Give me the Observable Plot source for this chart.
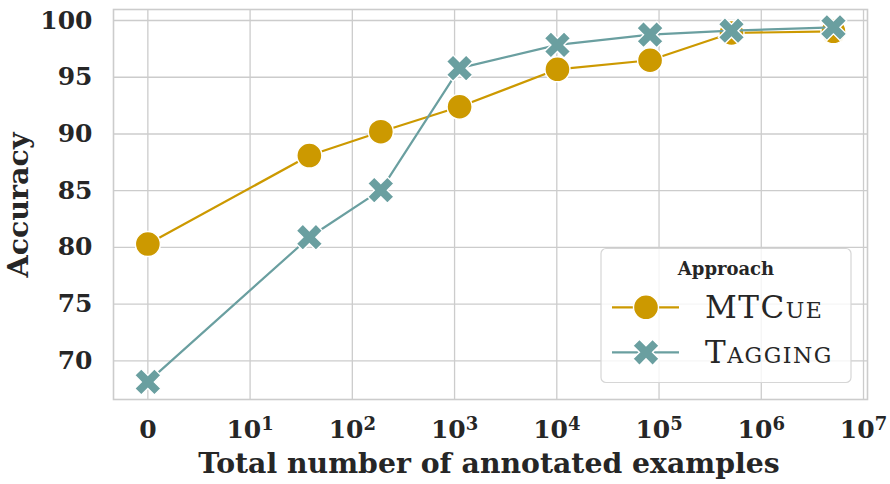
<!DOCTYPE html>
<html>
<head>
<meta charset="utf-8">
<script src="https://cdn.jsdelivr.net/npm/d3@7"></script>
<script src="https://cdn.jsdelivr.net/npm/@observablehq/plot@0.6"></script>
<style>
  html, body { margin: 0; padding: 0; background: #fff; }
  #chart { position: relative; width: 890px; height: 484px; }
</style>
</head>
<body>
<div id="chart"></div>
<script>
// ---- data ----
const examples = [0, 38, 190, 1120, 10150, 81700, 511000, 5080000];
const mtcue    = [80.3, 88.1, 90.2, 92.4, 95.7, 96.5, 98.9, 99.05];
const tagging  = [68.15, 80.9, 85.05, 95.8, 97.85, 98.75, 99.1, 99.4];
const xTickValues = [0, 10, 100, 1000, 10000, 100000, 1000000, 10000000];
const xTickLabels = ["0", "10^1", "10^2", "10^3", "10^4", "10^5", "10^6", "10^7"];
const yTicks = [70, 75, 80, 85, 90, 95, 100];
const seriesNames = ["MTCue", "Tagging"];
const colors = {MTCue: "#cc9900", Tagging: "#6a9fa0"};

// symmetric-log position (linear below 10, log10 above)
const pos = n => n <= 10 ? n / 10 : Math.log10(n);

const rows = [];
examples.forEach((n, i) => {
  rows.push({series: "MTCue", n, acc: mtcue[i]});
  rows.push({series: "Tagging", n, acc: tagging[i]});
});
const mt = rows.filter(d => d.series === "MTCue");
const tg = rows.filter(d => d.series === "Tagging");

// filled "X" marker (matplotlib-style)
const xPts = [[0.25,0],[0.5,0.25],[0.75,0],[1,0.25],[0.75,0.5],[1,0.75],[0.75,1],[0.5,0.75],[0.25,1],[0,0.75],[0.25,0.5],[0,0.25]];
const xFilled = {
  draw(ctx, size) {
    const s = Math.sqrt(size / Math.PI) * 1.05;
    xPts.forEach(([a, b], i) => {
      const x = (a - 0.5) * 2 * s, y = (b - 0.5) * 2 * s;
      i ? ctx.lineTo(x, y) : ctx.moveTo(x, y);
    });
    ctx.closePath();
  }
};

const gridColor = "#cccccc";
const xTickPos = xTickValues.map(pos);

const chart = Plot.plot({
  width: 890,
  height: 484,
  marginLeft: 113,
  marginRight: 23,
  marginTop: 9,
  marginBottom: 85,
  style: {fontFamily: "DejaVu Serif", fontWeight: "bold", fontSize: "25px", color: "#262626", background: "#fff"},
  x: {type: "linear", domain: [-0.336, 7.039]},
  y: {domain: [66.6, 100.97]},
  marks: [
    Plot.gridX(xTickPos, {stroke: gridColor, strokeOpacity: 1, strokeWidth: 1.3}),
    Plot.gridY(yTicks, {stroke: gridColor, strokeOpacity: 1, strokeWidth: 1.3}),
    Plot.frame({stroke: gridColor, strokeWidth: 1.6}),
    Plot.axisX(xTickPos, {tickSize: 0, tickPadding: 21, tickFormat: (d, i) => xTickLabels[i], label: null, fill: "#262626"}),
    Plot.axisY(yTicks, {tickSize: 0, tickPadding: 21, label: null, fill: "#262626"}),
    Plot.line(mt, {x: d => pos(d.n), y: "acc", stroke: colors.MTCue, strokeWidth: 2.2}),
    Plot.dot(mt, {x: d => pos(d.n), y: "acc", r: 12.5, symbol: "circle", fill: colors.MTCue, stroke: "#fff", strokeWidth: 1.4}),
    Plot.line(tg, {x: d => pos(d.n), y: "acc", stroke: colors.Tagging, strokeWidth: 2.2}),
    Plot.dot(tg, {x: d => pos(d.n), y: "acc", r: 12.5, symbol: xFilled, fill: colors.Tagging, stroke: "#fff", strokeWidth: 1.4})
  ]
});
document.getElementById("chart").appendChild(chart);

const svg = d3.select(chart);

// superscript tick labels
svg.selectAll('[aria-label="x-axis tick label"] text').each(function() {
  const t = this.textContent;
  if (t.includes("^")) {
    const [base, exp] = t.split("^");
    const el = d3.select(this);
    el.text(base);
    el.append("tspan").attr("dy", "-8").attr("font-size", "18px").text(exp);
  }
});

// axis labels
svg.append("text")
  .attr("x", 489).attr("y", 473)
  .attr("text-anchor", "middle")
  .attr("font-family", "DejaVu Serif").attr("font-weight", "bold").attr("font-size", "28.3px")
  .attr("fill", "#262626")
  .text("Total number of annotated examples");
svg.append("text")
  .attr("transform", "translate(28,205) rotate(-90)")
  .attr("text-anchor", "middle")
  .attr("font-family", "DejaVu Serif").attr("font-weight", "bold").attr("font-size", "28.5px")
  .attr("fill", "#262626")
  .text("Accuracy");

// legend
const lg = svg.append("g");
lg.append("rect")
  .attr("x", 601).attr("y", 248.5).attr("width", 250).attr("height", 134)
  .attr("rx", 5).attr("fill", "#fff").attr("fill-opacity", 0.8)
  .attr("stroke", "#d6d6d6").attr("stroke-width", 1.2);
lg.append("text")
  .attr("x", 726).attr("y", 275).attr("text-anchor", "middle")
  .attr("font-family", "DejaVu Serif").attr("font-weight", "bold").attr("font-size", "18px")
  .attr("fill", "#262626").text("Approach");
const entryY = [307.3, 352.3];
seriesNames.forEach((name, i) => {
  const y = entryY[i];
  lg.append("line").attr("x1", 612).attr("x2", 679).attr("y1", y).attr("y2", y)
    .attr("stroke", colors[name]).attr("stroke-width", 2.2);
  if (name === "MTCue") {
    lg.append("circle").attr("cx", 646).attr("cy", y).attr("r", 12.5)
      .attr("fill", colors[name]).attr("stroke", "#fff").attr("stroke-width", 1.4);
  } else {
    const p = d3.path();
    xFilled.draw(p, Math.PI * 12.5 * 12.5);
    lg.append("path").attr("d", p.toString()).attr("transform", `translate(646,${y})`)
      .attr("fill", colors[name]).attr("stroke", "#fff").attr("stroke-width", 1.4);
  }
  lg.append("text").attr("x", 705).attr("y", y + 11)
    .attr("text-anchor", "start")
    .attr("font-family", "DejaVu Serif").attr("font-weight", "normal").attr("font-size", "31px")
    .attr("letter-spacing", "1.5px")
    .attr("font-variant", "small-caps").attr("fill", "#262626")
    .text(name);
});
</script>
</body>
</html>
